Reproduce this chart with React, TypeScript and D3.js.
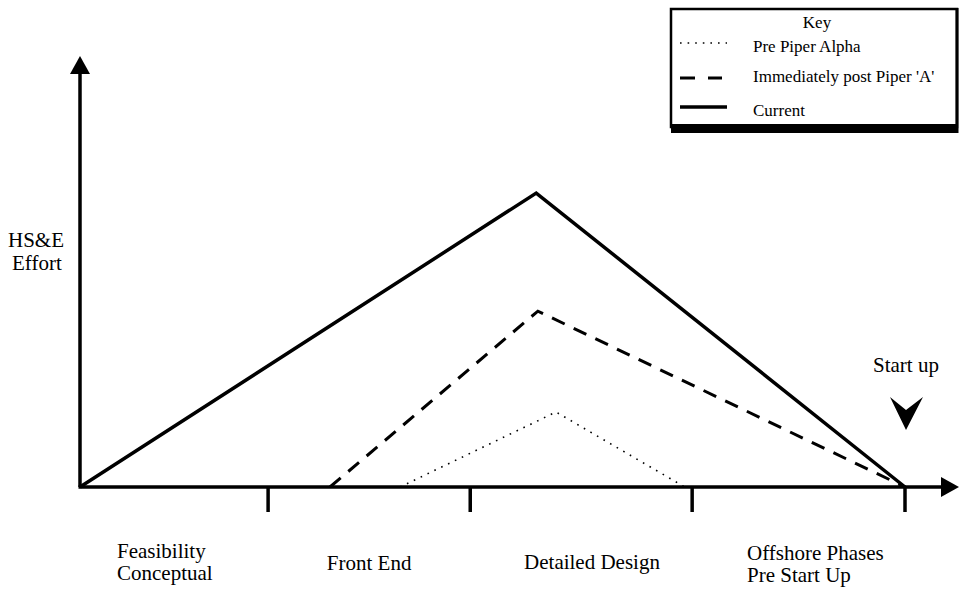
import React from "react";
import * as d3 from "d3";

// ---- Data ----
const phaseLabels: string[][] = [
  ["Feasibility", "Conceptual"],
  ["Front End"],
  ["Detailed Design"],
  ["Offshore Phases", "Pre Start Up"],
];
const phaseTicks: number[] = [0, 22.8, 47.3, 74.2, 100];
const seriesNames: string[] = ["Pre Piper Alpha", "Immediately post Piper 'A'", "Current"];
const preAlphaX: number[] = [38.8, 57.7, 73.3];
const preAlphaY: number[] = [0, 17.4, 0];
const postAX: number[] = [30.3, 55.5, 100];
const postAY: number[] = [0, 40.8, 0];
const currentX: number[] = [0, 55.3, 100];
const currentY: number[] = [0, 68.2, 0];
const yLabel: string[] = ["HS&E", "Effort"];
const startLabel = "Start up";
const keyTitle = "Key";

const W = 959;
const H = 598;
const FONT = "'Liberation Serif', 'Times New Roman', serif";

export default function App() {
  const x = d3.scaleLinear().domain([0, 100]).range([80, 905]);
  const y = d3.scaleLinear().domain([0, 100]).range([487, 56]);
  const line = d3
    .line<[number, number]>()
    .x((d) => x(d[0]))
    .y((d) => y(d[1]));
  const zip = (xs: number[], ys: number[]) => xs.map((v, i) => [v, ys[i]] as [number, number]);

  const series = [
    { name: seriesNames[0], pts: zip(preAlphaX, preAlphaY), w: 1.6, dash: "1.6 6" },
    { name: seriesNames[1], pts: zip(postAX, postAY), w: 3, dash: "14 10" },
    { name: seriesNames[2], pts: zip(currentX, currentY), w: 3.5, dash: "none" },
  ];

  const x0 = x(0);
  const y0 = y(0);
  const xEnd = x(100);

  // label layouts: [anchor, x, baseline]
  const labelLayout: { anchor: string; lx: number; ly: number }[] = [
    { anchor: "start", lx: 117, ly: 558 },
    { anchor: "middle", lx: (x(phaseTicks[1]) + x(phaseTicks[2])) / 2, ly: 570 },
    { anchor: "middle", lx: 592, ly: 569 },
    { anchor: "start", lx: 747, ly: 560 },
  ];

  const legendRows = [
    { y: 43, tx: 52 },
    { y: 78, tx: 82 },
    { y: 107, tx: 116 },
  ];

  return (
    <svg
      width={W}
      height={H}
      style={{ position: "absolute", left: 0, top: 0, background: "#fff" }}
      fontFamily={FONT}
    >
      <rect x={0} y={0} width={W} height={H} fill="#fff" />
      {/* Series lines */}
      {series.map((s, i) => (
        <path
          key={i}
          d={line(s.pts) || ""}
          fill="none"
          stroke="#000"
          strokeWidth={s.w}
          strokeDasharray={s.dash}
          strokeLinejoin="miter"
        />
      ))}
      {/* Axes */}
      <line x1={x0} y1={y0} x2={x0} y2={72} stroke="#000" strokeWidth={3.5} />
      <path d={`M${x0 - 10},${74} L${x0},${y(100)} L${x0 + 10},${74} Z`} fill="#000" />
      <line x1={x0 - 1.5} y1={y0} x2={942} y2={y0} stroke="#000" strokeWidth={3.5} />
      <path d={`M${941},${y0 - 10} L${959},${y0} L${941},${y0 + 10} Z`} fill="#000" />
      {phaseTicks.slice(1).map((t, i) => (
        <line key={i} x1={x(t)} y1={y0} x2={x(t)} y2={512} stroke="#000" strokeWidth={3.5} />
      ))}
      {/* Y label */}
      <text x={8} y={247} fontSize={21}>{yLabel[0]}</text>
      <text x={12} y={270} fontSize={21}>{yLabel[1]}</text>
      {/* Start up */}
      <text x={xEnd + 1} y={372} fontSize={21} textAnchor="middle">{startLabel}</text>
      <path
        d={`M${xEnd - 15},397 L${xEnd + 1},410 L${xEnd + 18},397 L${xEnd + 1},430 Z`}
        fill="#000"
      />
      {/* Phase labels */}
      {phaseLabels.map((lines, i) => (
        <text key={i} fontSize={21} textAnchor={labelLayout[i].anchor}>
          {lines.map((ln, j) => (
            <tspan key={j} x={labelLayout[i].lx} y={labelLayout[i].ly + j * 22}>
              {ln}
            </tspan>
          ))}
        </text>
      ))}
      {/* Legend */}
      <rect x={671} y={9} width={286} height={118} fill="#fff" stroke="#000" strokeWidth={2.5} />
      <rect x={671} y={124} width={287} height={9} fill="#000" />
      <line x1={957} y1={8} x2={957} y2={133} stroke="#000" strokeWidth={3} />
      <text x={817} y={28} fontSize={17} textAnchor="middle">{keyTitle}</text>
      {series.map((s, i) => (
        <g key={i}>
          <line
            x1={680}
            y1={legendRows[i].y}
            x2={i === 1 ? 722 : 727}
            y2={legendRows[i].y}
            stroke="#000"
            strokeWidth={s.w}
            strokeDasharray={i === 1 ? "15 13" : s.dash}
          />
          <text x={753} y={legendRows[i].tx} fontSize={17}>{s.name}</text>
        </g>
      ))}
    </svg>
  );
}
